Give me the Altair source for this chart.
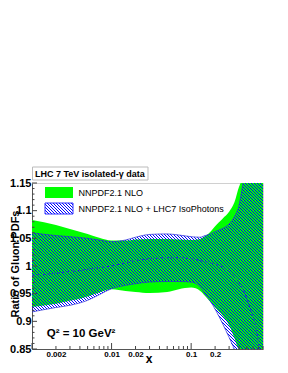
import altair as alt
import pandas as pd

# ---- data ----
x_grid = [0.001, 0.002, 0.003, 0.005, 0.007, 0.01, 0.015, 0.02, 0.03, 0.05, 0.07, 0.1,
          0.13, 0.15, 0.175, 0.2, 0.25, 0.3, 0.35, 0.4, 0.42, 0.45, 0.5, 0.8]
green_upper = [1.083, 1.074, 1.067, 1.058, 1.051, 1.046, 1.046, 1.048, 1.049, 1.049, 1.048, 1.047,
               1.049, 1.054, 1.062, 1.072, 1.086, 1.098, 1.115, 1.143, 1.155, 1.18, 1.25, 1.5]
green_lower = [0.926, 0.932, 0.937, 0.945, 0.952, 0.958, 0.955, 0.953, 0.951, 0.953, 0.958, 0.961,
               0.955, 0.946, 0.935, 0.925, 0.910, 0.893, 0.870, 0.842, 0.833, 0.82, 0.8, 0.7]
blue_upper = [1.060, 1.055, 1.053, 1.050, 1.047, 1.044, 1.047, 1.052, 1.057, 1.058, 1.056, 1.053,
              1.052, 1.055, 1.058, 1.062, 1.068, 1.076, 1.089, 1.110, 1.125, 1.15, 1.2, 1.4]
blue_lower = [0.917, 0.925, 0.929, 0.938, 0.948, 0.959, 0.965, 0.968, 0.971, 0.972, 0.972, 0.971,
              0.962, 0.949, 0.936, 0.922, 0.895, 0.871, 0.846, 0.8, 0.79, 0.77, 0.75, 0.65]

x_central = [0.001, 0.002, 0.003, 0.005, 0.007, 0.01, 0.015, 0.02, 0.03, 0.05, 0.07, 0.1,
             0.13, 0.15, 0.2, 0.25, 0.3, 0.35, 0.4, 0.5, 0.6, 0.65, 0.7, 0.72]
central = [0.983, 0.987, 0.990, 0.994, 0.997, 1.000, 1.006, 1.010, 1.013, 1.015, 1.015, 1.013,
           1.010, 1.008, 1.003, 0.998, 0.990, 0.980, 0.970, 0.941, 0.906, 0.890, 0.862, 0.848]

y_labels = [0.85, 0.9, 0.95, 1.0, 1.05, 1.1, 1.15]
y_minor = [0.86, 0.87, 0.88, 0.89, 0.91, 0.92, 0.93, 0.94, 0.96, 0.97, 0.98, 0.99,
           1.01, 1.02, 1.03, 1.04, 1.06, 1.07, 1.08, 1.09, 1.11, 1.12, 1.13, 1.14]
x_labels = [0.002, 0.01, 0.02, 0.1, 0.2]
x_decades = [0.001, 0.01, 0.1]
x_minor = [0.002, 0.003, 0.004, 0.005, 0.006, 0.007, 0.008, 0.009,
           0.02, 0.03, 0.04, 0.05, 0.06, 0.07, 0.08, 0.09,
           0.2, 0.3, 0.4, 0.5, 0.6, 0.7, 0.8]

legend_labels = ["NNPDF2.1 NLO", "NNPDF2.1 NLO + LHC7 IsoPhotons"]
title_text = "LHC 7 TeV isolated-\u03b3 data"
q2_text = "Q\u00b2 = 10 GeV\u00b2"

W, H = 231, 166
FONT = "Liberation Sans"

band = pd.DataFrame({"x": x_grid, "gu": green_upper, "gl": green_lower,
                     "bu": blue_upper, "bl": blue_lower})
cen = pd.DataFrame({"x": x_central, "c": central})


def hatch(w, h, period=3.0, lw=1.0, color="#0000ff"):
    L = float(w + h)
    clear = "rgba(0,0,255,0)"
    stops = [alt.GradientStop(offset=0, color=clear)]
    pos = 0.5
    while pos < L:
        a = pos / L
        b = min((pos + lw) / L, 1.0)
        stops += [alt.GradientStop(offset=a, color=clear),
                  alt.GradientStop(offset=a, color=color),
                  alt.GradientStop(offset=b, color=color),
                  alt.GradientStop(offset=b, color=clear)]
        pos += period
    stops.append(alt.GradientStop(offset=1, color=clear))
    r = h / w
    s = (1 + r) / (1 + r * r)
    return alt.Gradient(gradient="linear", stops=stops, x1=0, y1=1, x2=s, y2=1 - s * r)


xs = alt.Scale(type="log", domain=[0.001, 0.8], nice=False)
ys = alt.Scale(domain=[0.85, 1.15], clamp=True, nice=False, zero=False)

xaxis = alt.Axis(values=x_labels, format="~g", ticks=False, tickSize=0, grid=False,
                 labelFont=FONT, labelFontSize=8, labelFontWeight="bold", labelColor="black",
                 labelPadding=1, labelFlush=False, labelOverlap=False,
                 domainColor="#555555", title="x", titleFont=FONT, titleFontSize=12,
                 titleFontWeight="bold", titleColor="black", titleX=116.5, titleY=13.5,
                 titleAlign="center", titleBaseline="alphabetic")
yaxis = alt.Axis(values=y_labels, format="~g", ticks=False, tickSize=0, grid=False,
                 labelFont=FONT, labelFontSize=11, labelFontWeight="bold", labelColor="black",
                 labelPadding=1, labelFlush=False, labelOverlap=False,
                 domainColor="#555555", title="Ratio of Gluon PDFs", titleFont=FONT,
                 titleFontSize=11, titleFontWeight="bold", titleColor="black",
                 titleAngle=270, titleX=-14, titleY=80.5, titleAlign="center",
                 titleBaseline="alphabetic")

X = lambda f: alt.X(f, scale=xs, axis=xaxis)
Y = lambda f: alt.Y(f, scale=ys, axis=yaxis)

green = alt.Chart(band).mark_area(color="#00ff00", opacity=1, interpolate="monotone").encode(
    x=X("x:Q"), y=Y("gu:Q"), y2="gl:Q")

blue = alt.Chart(band).mark_area(fill=hatch(W, H), opacity=1, strokeWidth=0,
                                 interpolate="monotone").encode(
    x=X("x:Q"), y=Y("bu:Q"), y2="bl:Q")

edge_style = dict(color="#2b2bd6", strokeWidth=0.8, opacity=0.9, interpolate="monotone")
blue_up_line = alt.Chart(band).transform_filter("datum.x <= 0.45").mark_line(**edge_style).encode(
    x=X("x:Q"), y=Y("bu:Q"))
blue_lo_line = alt.Chart(band).transform_filter("datum.x <= 0.35").mark_line(**edge_style).encode(
    x=X("x:Q"), y=Y("bl:Q"))
central_line = alt.Chart(cen).mark_line(color="#2340c0", strokeWidth=1, strokeDash=[3, 2],
                                        interpolate="monotone").encode(
    x=X("x:Q"), y=Y("c:Q"))

tick_color = "#444444"
ytick_major = alt.Chart(pd.DataFrame({"v": y_labels})).mark_rule(color=tick_color, strokeWidth=1).encode(
    y=Y("v:Q"), x=alt.value(0), x2=alt.value(5))
ytick_minor = alt.Chart(pd.DataFrame({"v": y_minor})).mark_rule(color=tick_color, strokeWidth=1).encode(
    y=Y("v:Q"), x=alt.value(0), x2=alt.value(2.5))
xtick_major = alt.Chart(pd.DataFrame({"v": x_decades})).mark_rule(color=tick_color, strokeWidth=1).encode(
    x=X("v:Q"), y=alt.value(H), y2=alt.value(H - 6))
xtick_minor = alt.Chart(pd.DataFrame({"v": x_minor})).mark_rule(color=tick_color, strokeWidth=1).encode(
    x=X("v:Q"), y=alt.value(H), y2=alt.value(H - 3))

one = alt.Data(values=[{"a": 1}])
title_box = alt.Chart(one).mark_rect(fill="white", stroke="#bbbbbb", strokeWidth=1).encode(
    x=alt.value(0.5), x2=alt.value(116), y=alt.value(-16), y2=alt.value(-3))
title_mark = alt.Chart(one).mark_text(text=title_text, font=FONT, fontSize=9, fontWeight="bold",
                                      align="left", baseline="alphabetic", color="black").encode(
    x=alt.value(3), y=alt.value(-6.3))

sw_green = alt.Chart(one).mark_rect(fill="#00ff00").encode(
    x=alt.value(13), x2=alt.value(41), y=alt.value(4), y2=alt.value(15))
sw_blue = alt.Chart(one).mark_rect(fill=hatch(28, 11), stroke="#3030ff", strokeWidth=1).encode(
    x=alt.value(13), x2=alt.value(41), y=alt.value(20), y2=alt.value(31))
leg1 = alt.Chart(one).mark_text(text=legend_labels[0], font=FONT, fontSize=9, align="left",
                                baseline="middle", color="black").encode(
    x=alt.value(46.5), y=alt.value(9.7))
leg2 = alt.Chart(one).mark_text(text=legend_labels[1], font=FONT, fontSize=9, align="left",
                                baseline="middle", color="black").encode(
    x=alt.value(46.5), y=alt.value(26))
q2 = alt.Chart(one).mark_text(text=q2_text, font=FONT, fontSize=11.5, fontWeight="bold",
                              align="left", baseline="alphabetic", color="black").encode(
    x=alt.value(14.7), y=alt.value(153.7))

chart = alt.layer(
    green, blue, blue_up_line, blue_lo_line, central_line,
    ytick_major, ytick_minor, xtick_major, xtick_minor,
    title_box, title_mark, sw_green, sw_blue, leg1, leg2, q2
).properties(
    width=W, height=H,
    autosize=alt.AutoSizeParams(type="none"),
    padding={"left": 24, "top": 175, "right": 17, "bottom": 16},
    background="white"
).configure_view(stroke="#d0d0d0", strokeWidth=1)

chart.save("out.html", embed_options={"renderer": "svg", "actions": False})
